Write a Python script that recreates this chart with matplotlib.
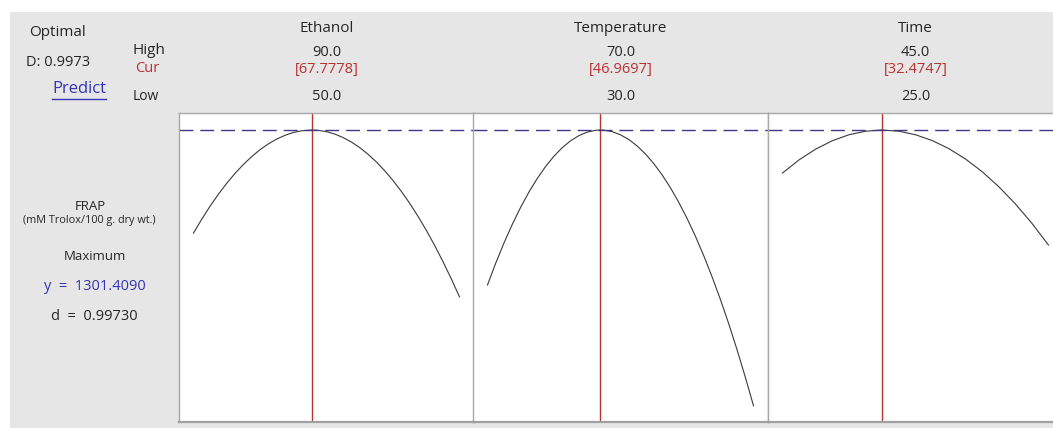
import numpy as np
import matplotlib.pyplot as plt
from matplotlib.patches import Rectangle
from matplotlib.lines import Line2D

plt.rcParams['font.family'] = ['Open Sans', 'DejaVu Sans']

# Factor settings
factors = ['Ethanol', 'Temperature', 'Time']
high = [90.0, 70.0, 45.0]
low = [50.0, 30.0, 25.0]
cur = [67.7778, 46.9697, 32.4747]

# Response at optimum
y_opt = 1301.4090
d_ind = 0.99730
D_comp = 0.9973

# Predicted FRAP along each factor (others held at current setting)
ethanol_x = [50, 51.25, 52.5, 53.75, 55, 56.25, 57.5, 58.75, 60, 61.25, 62.5, 63.75, 65, 66.25,
             67.7778, 68.75, 70, 71.25, 72.5, 73.75, 75, 76.25, 77.5, 78.75, 80, 81.25, 82.5,
             83.75, 85, 86.25, 87.5, 88.75, 90]
ethanol_y = [1144.0, 1165.4, 1185.2, 1203.4, 1220.1, 1235.2, 1248.8, 1260.8, 1271.3, 1280.2,
             1287.5, 1293.3, 1297.6, 1300.2, 1301.4, 1300.9, 1298.9, 1295.2, 1289.9, 1283.0,
             1274.5, 1264.4, 1252.6, 1239.3, 1224.3, 1207.8, 1189.6, 1169.8, 1148.4, 1125.4,
             1100.7, 1074.5, 1046.6]

temp_x = [30, 31.25, 32.5, 33.75, 35, 36.25, 37.5, 38.75, 40, 41.25, 42.5, 43.75, 45, 46.25,
          46.9697, 47.5, 48.75, 50, 51.25, 52.5, 53.75, 55, 56.25, 57.5, 58.75, 60, 61.25,
          62.5, 63.75, 65, 66.25, 67.5, 68.75, 70]
temp_y = [1064.8, 1098.4, 1129.4, 1157.8, 1183.7, 1207.0, 1227.7, 1245.9, 1261.5, 1274.5,
          1285.0, 1292.9, 1298.2, 1301.0, 1301.4, 1301.2, 1298.9, 1294.1, 1286.9, 1277.1,
          1264.9, 1250.2, 1233.0, 1213.4, 1191.2, 1166.6, 1139.5, 1109.9, 1077.8, 1043.3,
          1006.3, 966.7, 924.7, 880.3]

time_x = [25, 26.25, 27.5, 28.75, 30, 31.25, 32.4747, 33.75, 35, 36.25, 37.5, 38.75, 40, 41.25,
          42.5, 43.75, 45]
time_y = [1235.7, 1255.9, 1272.3, 1285.1, 1294.2, 1299.6, 1301.4, 1299.6, 1294.2, 1285.4, 1273.1,
          1257.3, 1238.0, 1215.1, 1188.8, 1159.0, 1125.7]

curves_x = [ethanol_x, temp_x, time_x]
curves_y = [ethanol_y, temp_y, time_y]

W, H = 1053, 428
fig = plt.figure(figsize=(W / 100, H / 100), dpi=100, facecolor='white')

def fx(px):
    return px / W

def fy(py):
    return 1 - py / H

# grey backdrop behind everything
fig.patches.append(Rectangle((fx(10), 0), 1 - fx(10), fy(12), transform=fig.transFigure,
                             facecolor='#e6e6e6', edgecolor='none', zorder=-5))

dark = '#262626'
red = '#b83232'
blue = '#3434b4'
fs = 10.5

panel_left = [179, 473, 768]
panel_w = 295
top, bottom = 113, 422

for i in range(3):
    ax = fig.add_axes([fx(panel_left[i]), fy(bottom), panel_w / W, (bottom - top) / H])
    ax.set_facecolor('white')
    ax.plot(curves_x[i], curves_y[i], color='#3a3a3a', lw=0.8)
    ax.axvline(cur[i], color=red, lw=1.0)
    ax.axhline(y_opt, color='#3a3a88', lw=1.0, dashes=(10, 5))
    pad = 0.0545 * (high[i] - low[i])
    ax.set_xlim(low[i] - pad, high[i] + pad)
    ax.set_ylim(855.5, 1327.4)
    ax.set_xticks([])
    ax.set_yticks([])
    for s in ax.spines.values():
        s.set_color('#a8a8a8')
        s.set_linewidth(1.0)
    ax.spines['bottom'].set_linewidth(1.6)
    ax.spines['bottom'].set_color('#a0a0a0')

    cx = panel_left[i] + panel_w / 2
    fig.text(fx(cx), fy(28), factors[i], ha='center', va='center', fontsize=11, color=dark)
    fig.text(fx(cx), fy(52), f'{high[i]:.1f}', ha='center', va='center', fontsize=fs, color=dark)
    fig.text(fx(cx), fy(69), f'[{cur[i]:.4f}]', ha='center', va='center', fontsize=fs, color=red)
    fig.text(fx(cx), fy(97), f'{low[i]:.1f}', ha='center', va='center', fontsize=fs, color=dark)

# left column
fig.text(fx(58), fy(33), 'Optimal', ha='center', va='center', fontsize=11, color=dark)
fig.text(fx(58), fy(62), f'D: {D_comp:.4f}', ha='center', va='center', fontsize=10.5, color=dark)
pred = fig.text(fx(79), fy(89), 'Predict', ha='center', va='center', fontsize=12, color=blue)
fig.text(fx(132), fy(51), 'High', ha='left', va='center', fontsize=11, color=dark)
fig.text(fx(135), fy(69), 'Cur', ha='left', va='center', fontsize=fs, color=red)
fig.text(fx(133), fy(97), 'Low', ha='left', va='center', fontsize=fs - 0.5, color=dark)

fig.text(fx(90), fy(207), 'FRAP', ha='center', va='center', fontsize=9.5, color=dark)
fig.text(fx(89), fy(221), '(mM Trolox/100 g. dry wt.)', ha='center', va='center', fontsize=7.8, color=dark)
fig.text(fx(95), fy(256), 'Maximum', ha='center', va='center', fontsize=9.5, color=dark)
fig.text(fx(95), fy(286), f'y  =  {y_opt:.4f}', ha='center', va='center', fontsize=fs, color=blue)
fig.text(fx(94), fy(316), f'd  =  {d_ind:.5f}', ha='center', va='center', fontsize=fs, color=dark)

# underline the Predict link
fig.canvas.draw()
bb = pred.get_window_extent().transformed(fig.transFigure.inverted())
fig.add_artist(Line2D([bb.x0, bb.x1], [fy(98.5), fy(98.5)], transform=fig.transFigure,
                      color=blue, lw=1.0))

plt.savefig('out.png', dpi=100, facecolor='white')
